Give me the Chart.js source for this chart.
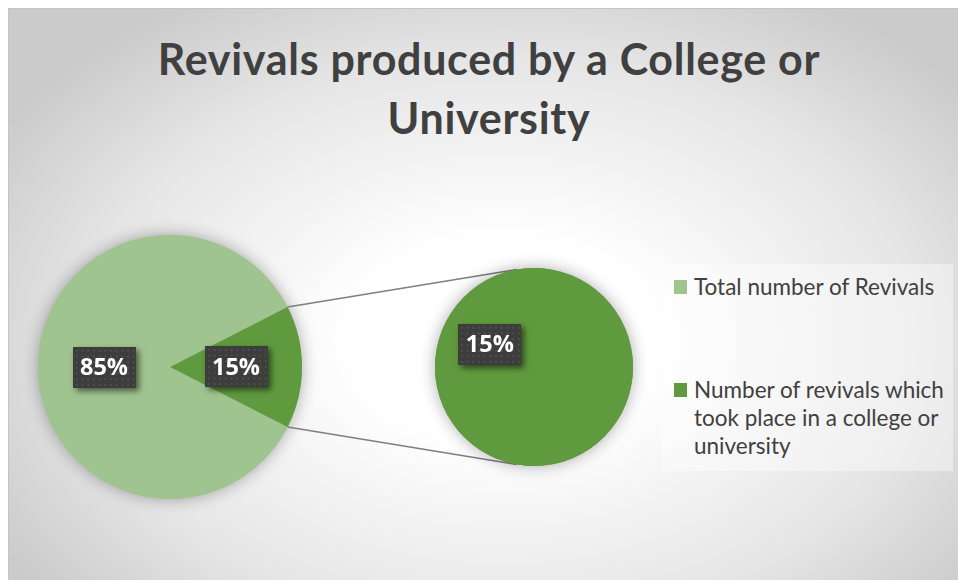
<!DOCTYPE html>
<html>
<head>
<meta charset="utf-8">
<script src="https://cdn.jsdelivr.net/npm/chart.js@4.4.1/dist/chart.umd.min.js"></script>
<style>
  html, body { margin: 0; padding: 0; background: #fff; }
  body { position: relative; width: 958px; height: 580px; overflow: hidden; }
  #frame {
    position: absolute; left: 8px; top: 8px; width: 950px; height: 572px;
    border-left: 1px solid #c4c4c4; border-top: 1px solid #c4c4c4;
    background: radial-gradient(ellipse 62% 70% at 52% 58%, #ffffff 0%, #ffffff 25%, #e6e6e6 70%, #cbcbcb 100%);
  }
  #title {
    position: absolute; left: 12px; top: 29px; width: 954px;
    text-align: center; color: #404040; letter-spacing: 0.7px;
    font: bold 43px/59px Lato, "Open Sans", sans-serif;
  }
  canvas { position: absolute; }
  #pieMain { left: 20px; top: 217px; }
  #pieSplit { left: 280px; top: 250px; }
  #legend {
    position: absolute; left: 662px; top: 264px; width: 291px; height: 207px;
    background: rgba(255, 255, 255, 0.4);
    box-sizing: border-box; padding: 9px 2px 0 12px;
    color: #404040; font: 22.5px/28px Lato, "Open Sans", sans-serif;
  }
  .item { position: relative; padding-left: 20px; }
  .item + .item { margin-top: 75px; }
  .swatch { position: absolute; left: 0; top: 7px; width: 13px; height: 14px; }
</style>
</head>
<body>
<div id="frame"></div>
<div id="title">Revivals produced by a College or<br>University</div>
<canvas id="pieMain" width="300" height="300"></canvas>
<canvas id="pieSplit" width="380" height="240"></canvas>
<div id="legend"></div>

<script>
// Share of revivals, in percent
const categories = ['Total number of Revivals', 'Number of revivals which took place in a college or university'];
const shareValues = [85, 15];
// The college/university share, broken out into the second pie
const splitValues = [15];
const sliceColors = ['#A0C48F', '#609A3E'];

const START_ROTATION = 117;   // puts the small slice on the right, facing the second pie
const LINK_ANGLE = 100 * Math.PI / 180;

// Soft halo under each pie
const pieHalo = {
  id: 'pieHalo',
  beforeDatasetsDraw(chart) {
    const arc = chart.getDatasetMeta(0).data[0];
    if (!arc) return;
    const ctx = chart.ctx;
    ctx.save();
    ctx.shadowColor = 'rgba(0, 0, 0, 0.32)';
    ctx.shadowBlur = 16;
    ctx.fillStyle = chart.data.datasets[0].backgroundColor[0];
    ctx.beginPath();
    ctx.arc(arc.x, arc.y, arc.outerRadius, 0, Math.PI * 2);
    ctx.fill();
    ctx.restore();
  }
};

// Dark dotted value tags, placed at each slice's mid point
const valueTags = {
  id: 'valueTags',
  afterDatasetsDraw(chart) {
    const ctx = chart.ctx;
    const values = chart.data.datasets[0].data;
    chart.getDatasetMeta(0).data.forEach((arc, i) => {
      const { x, y } = arc.tooltipPosition();
      const text = values[i] + '%';
      ctx.save();
      ctx.font = 'bold 23.5px "Open Sans", sans-serif';
      const h = 41;
      const w = 63;
      const bx = Math.round(x - w / 2);
      const by = Math.round(y - h / 2);
      ctx.shadowColor = 'rgba(0, 0, 0, 0.55)';
      ctx.shadowBlur = 6;
      ctx.shadowOffsetX = 3;
      ctx.shadowOffsetY = 3;
      ctx.fillStyle = '#3d3d3d';
      ctx.fillRect(bx, by, w, h);
      ctx.shadowColor = 'transparent';
      ctx.fillStyle = '#575757';
      for (let dy = 3; dy < h - 1; dy += 5.7) {
        for (let dx = 3; dx < w - 1; dx += 5.7) {
          ctx.fillRect(bx + dx, by + dy, 1.6, 1.6);
        }
      }
      ctx.fillStyle = '#ffffff';
      ctx.textAlign = 'center';
      ctx.textBaseline = 'middle';
      ctx.fillText(text, x, y + 1);
      ctx.restore();
    });
  }
};

function pieConfig(values, colors, padding, plugins) {
  return {
    type: 'pie',
    data: {
      labels: categories.slice(values.length === 1 ? 1 : 0),
      datasets: [{
        data: values,
        backgroundColor: colors,
        borderWidth: 0,
        rotation: START_ROTATION,
      }],
    },
    options: {
      responsive: false,
      animation: false,
      events: [],
      layout: { padding },
      plugins: { legend: { display: false }, tooltip: { enabled: false } },
    },
    plugins,
  };
}

const mainCanvas = document.getElementById('pieMain');
const splitCanvas = document.getElementById('pieSplit');

const mainChart = new Chart(mainCanvas, pieConfig(shareValues, sliceColors, 18, [pieHalo, valueTags]));

// Lines from the edges of the small slice to the second pie
const connectors = {
  id: 'connectors',
  beforeDatasetsDraw(chart) {
    const src = mainChart.getDatasetMeta(0).data[1];
    const dst = chart.getDatasetMeta(0).data[0];
    if (!src || !dst) return;
    const a = mainCanvas.getBoundingClientRect();
    const b = splitCanvas.getBoundingClientRect();
    const ox = a.left - b.left;
    const oy = a.top - b.top;
    const ends = [
      [src.startAngle, -LINK_ANGLE],
      [src.endAngle, LINK_ANGLE],
    ];
    const ctx = chart.ctx;
    ctx.save();
    ctx.strokeStyle = '#7f7f7f';
    ctx.lineWidth = 1.5;
    ends.forEach(([from, to]) => {
      ctx.beginPath();
      ctx.moveTo(ox + src.x + src.outerRadius * Math.cos(from), oy + src.y + src.outerRadius * Math.sin(from));
      ctx.lineTo(dst.x + dst.outerRadius * Math.cos(to), dst.y + dst.outerRadius * Math.sin(to));
      ctx.stroke();
    });
    ctx.restore();
  }
};

new Chart(splitCanvas, pieConfig(splitValues, [sliceColors[1]],
  { left: 155, right: 27, top: 18, bottom: 24 }, [connectors, pieHalo, valueTags]));

// Legend
const legend = document.getElementById('legend');
categories.forEach((name, i) => {
  const item = document.createElement('div');
  item.className = 'item';
  const sw = document.createElement('span');
  sw.className = 'swatch';
  sw.style.background = sliceColors[i];
  item.appendChild(sw);
  item.appendChild(document.createTextNode(name));
  legend.appendChild(item);
});
</script>
</body>
</html>
